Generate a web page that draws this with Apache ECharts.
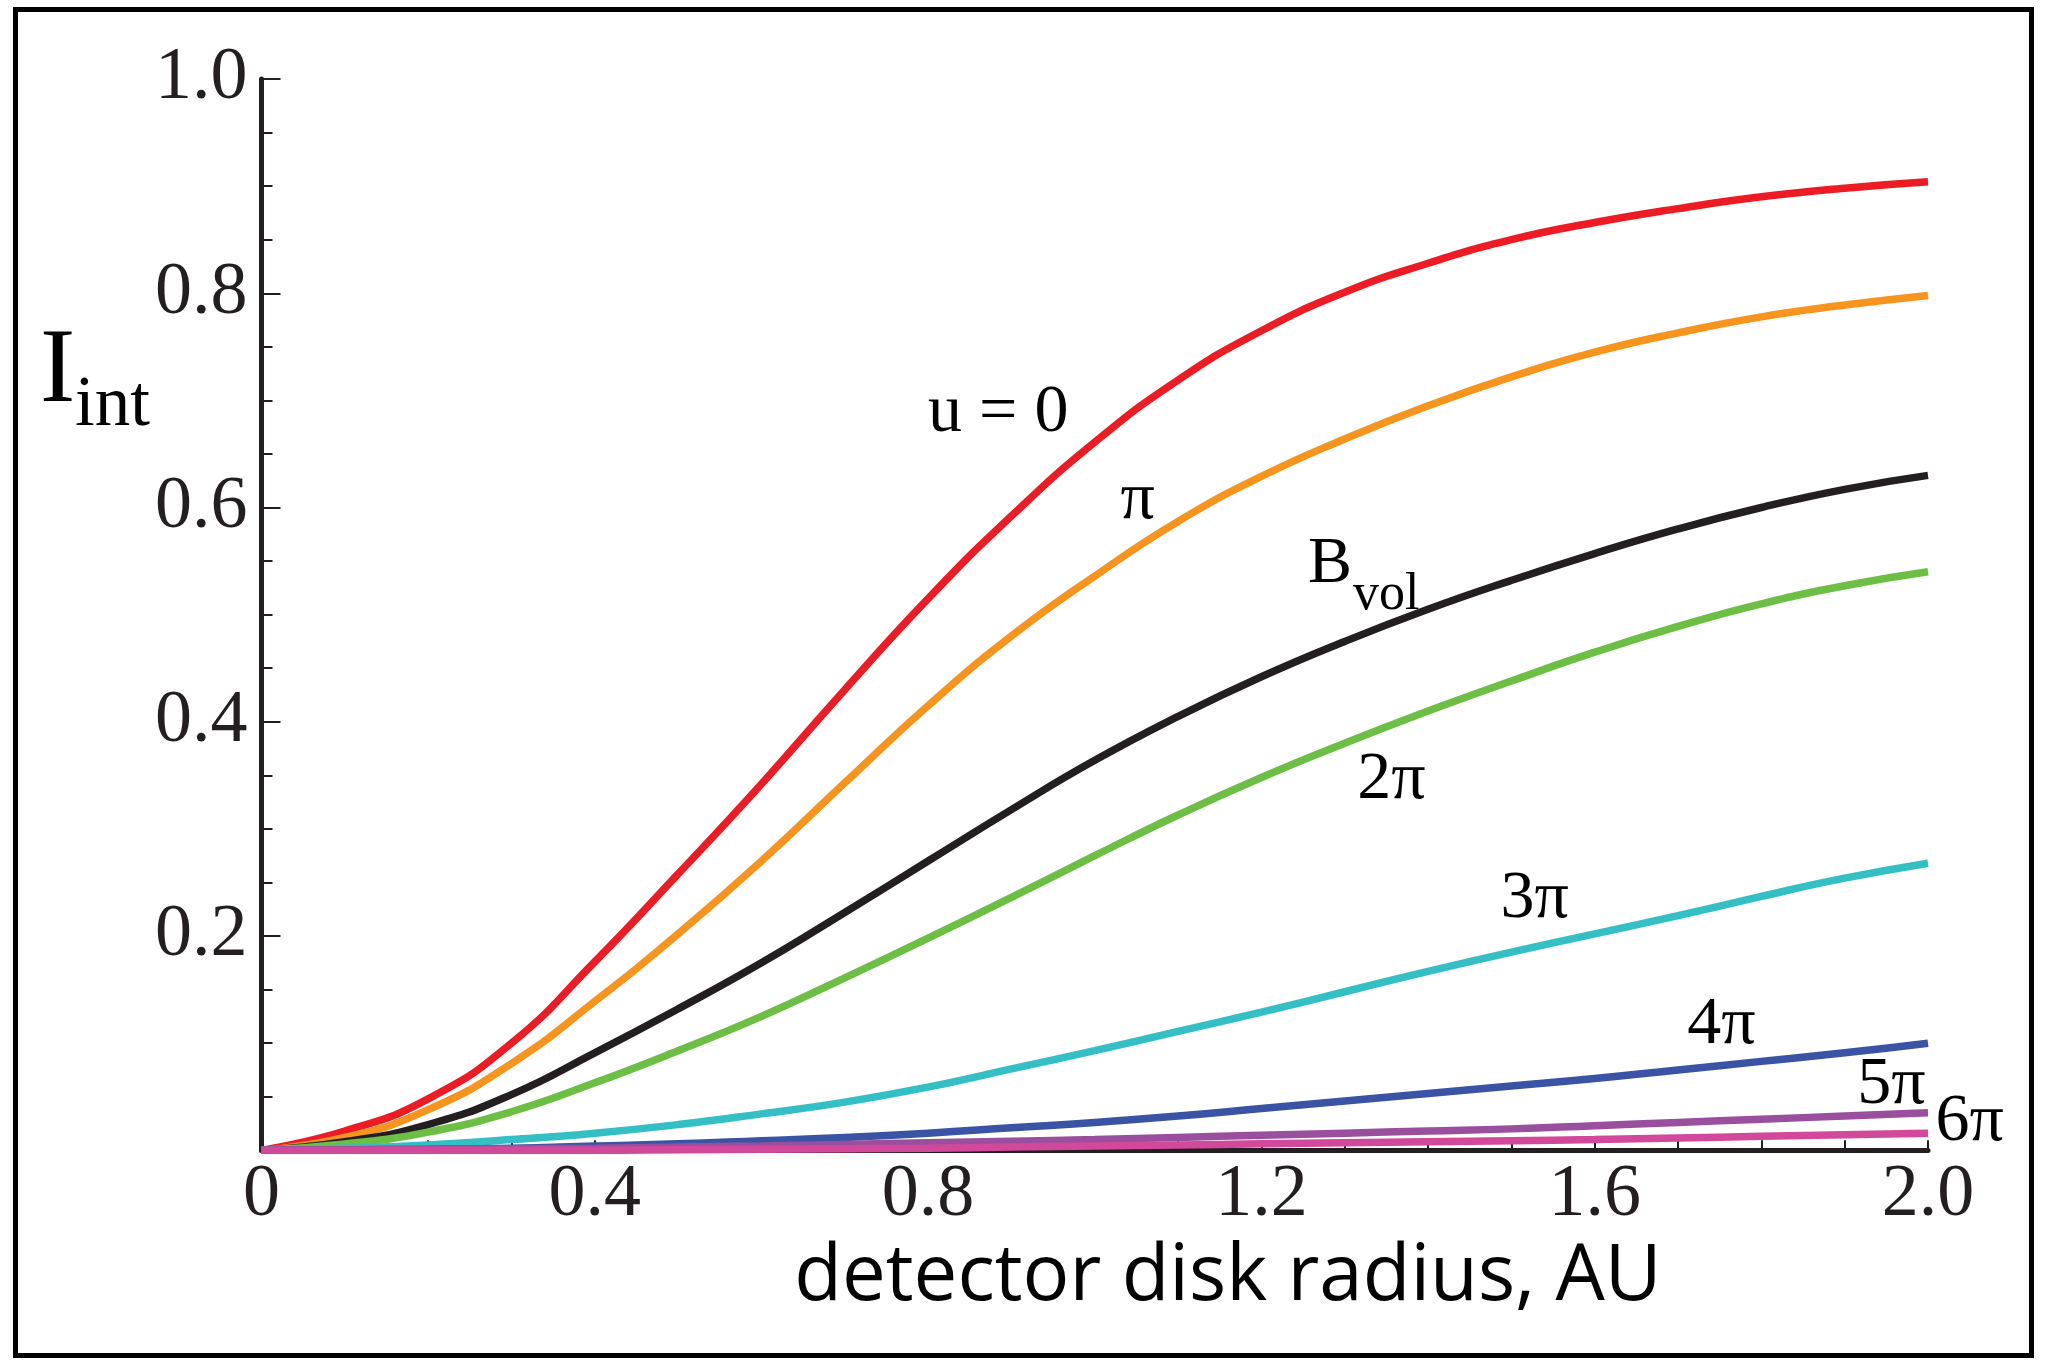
<!DOCTYPE html>
<html>
<head>
<meta charset="utf-8">
<script src="https://cdn.jsdelivr.net/npm/echarts@6.0.0/dist/echarts.min.js"></script>
<style>
html,body{margin:0;padding:0;background:#ffffff;}
#chart{width:2046px;height:1368px;}
</style>
</head>
<body>
<div id="chart"></div>
<script>
// ---------- data ----------
const radius = [0,0.1,0.2,0.3,0.4,0.5,0.6,0.7,0.8,0.9,1.0,1.1,1.2,1.3,1.4,1.5,1.6,1.7,1.8,1.9,2.0];
const u0   = [0,0.018,0.048,0.100,0.176,0.258,0.342,0.430,0.515,0.592,0.661,0.719,0.765,0.801,0.828,0.850,0.866,0.879,0.890,0.898,0.904];
const uPi  = [0,0.012,0.038,0.081,0.139,0.202,0.270,0.343,0.415,0.480,0.536,0.587,0.629,0.664,0.695,0.722,0.745,0.763,0.778,0.789,0.798];
const bVol = [0,0.008,0.024,0.052,0.091,0.132,0.175,0.222,0.270,0.318,0.364,0.405,0.442,0.475,0.505,0.532,0.557,0.580,0.600,0.617,0.630];
const u2Pi = [0,0.006,0.017,0.036,0.063,0.093,0.125,0.161,0.198,0.236,0.275,0.313,0.348,0.380,0.410,0.438,0.465,0.489,0.510,0.527,0.540];
const u3Pi = [0,0.002,0.005,0.010,0.016,0.024,0.034,0.045,0.059,0.076,0.093,0.111,0.129,0.148,0.167,0.185,0.202,0.219,0.237,0.254,0.268];
const u4Pi = [0,0.0005,0.001,0.002,0.004,0.006,0.009,0.012,0.016,0.021,0.026,0.032,0.039,0.046,0.053,0.060,0.067,0.075,0.083,0.091,0.100];
const u5Pi = [0,0.0003,0.001,0.0015,0.002,0.003,0.004,0.0055,0.007,0.0085,0.010,0.012,0.014,0.016,0.018,0.020,0.023,0.026,0.029,0.032,0.035];
const u6Pi = [0,0,0,0,0,0.0005,0.001,0.0015,0.002,0.003,0.004,0.005,0.006,0.007,0.008,0.009,0.010,0.0115,0.013,0.0145,0.016];

const seriesNames = ['u = 0','π','B_vol','2π','3π','4π','5π','6π'];
const seriesValues = [u0,uPi,bVol,u2Pi,u3Pi,u4Pi,u5Pi,u6Pi];
const seriesColors = ['#ED1C24','#F7941D','#231F20','#6DBE45','#34BFC4','#3A53A4','#9A4F9E','#D2489A'];

const xTickLabels = ['0','0.4','0.8','1.2','1.6','2.0'];
const yTickLabels = ['','0.2','0.4','0.6','0.8','1.0'];

// curve labels: text, anchor (r, I) of left/baseline, font size
const curveLabels = [
  {text:'u = 0', r:0.800, v:0.667, fs:68},
  {text:'π',     r:1.031, v:0.585, fs:68},
  {text:'B',     r:1.256, v:0.526, fs:66},
  {text:'vol',   r:1.310, v:0.502, fs:52},
  {text:'2π',    r:1.315, v:0.324, fs:68},
  {text:'3π',    r:1.487, v:0.213, fs:68},
  {text:'4π',    r:1.711, v:0.0955, fs:68},
  {text:'5π',    r:1.915, v:0.0395, fs:68},
  {text:'6π',    r:2.009, v:0.0049, fs:68}
];

const AXIS = '#231F20';
const SERIF = '"Liberation Serif","Times New Roman",serif';
const SANS = '"Open Sans","Noto Sans",sans-serif';

const chart = echarts.init(document.getElementById('chart'), null, {renderer:'canvas'});

const option = {
  animation:false,
  backgroundColor:'#ffffff',
  grid:{left:261.5, right:118, top:79, bottom:217.7, containLabel:false},
  xAxis:{
    type:'value', min:0, max:2, interval:0.4,
    axisLine:{show:true, onZero:false, lineStyle:{color:AXIS, width:5}},
    axisTick:{show:true, inside:true, length:10, lineStyle:{color:AXIS, width:2}},
    minorTick:{show:true, splitNumber:4, length:10, lineStyle:{color:AXIS, width:2}},
    splitLine:{show:false},
    axisLabel:{
      margin:8, color:AXIS, fontFamily:SERIF, fontSize:74, lineHeight:74,
      formatter:(v)=> xTickLabels[Math.round(v/0.4)] ?? ''
    }
  },
  yAxis:{
    type:'value', min:0, max:1, interval:0.2,
    axisLine:{show:true, onZero:false, lineStyle:{color:AXIS, width:5}},
    axisTick:{show:true, inside:true, length:19, lineStyle:{color:AXIS, width:2}},
    minorTick:{show:true, splitNumber:4, length:11, lineStyle:{color:AXIS, width:2}},
    splitLine:{show:false},
    axisLabel:{
      margin:14, color:AXIS, fontFamily:SERIF, fontSize:74, lineHeight:74,
      formatter:(v)=> yTickLabels[Math.round(v/0.2)] ?? ''
    }
  },
  series: seriesValues.map((vals,i)=>({
    name:seriesNames[i],
    type:'line',
    data:radius.map((r,j)=>[r, vals[j]]),
    showSymbol:false,
    symbol:'none',
    smooth:0.5,
    clip:false,
    lineStyle:{color:seriesColors[i], width:7.5, cap:'butt'},
    z:2+i
  }))
};
chart.setOption(option);

// middle-of-text offset above the baseline for the fonts used
const MID_SERIF = 0.3375;
const MID_SANS = 0.388;

const graphics = [];
// frame
graphics.push({type:'rect', shape:{x:15.5, y:9.5, width:2016, height:1346},
  style:{fill:'none', stroke:'#000000', lineWidth:5}, silent:true, z:0});

// curve labels placed through the axes' own scales
curveLabels.forEach(l=>{
  const p = chart.convertToPixel({gridIndex:0}, [l.r, l.v]);
  graphics.push({type:'text', x:p[0], y:p[1] - MID_SERIF*l.fs, z:50,
    style:{text:l.text, fill:'#000000', font:`${l.fs}px ${SERIF}`, align:'left', verticalAlign:'middle'}});
});

// y axis title I_int
graphics.push({type:'text', x:40, y:409 - MID_SERIF*106, z:50,
  style:{text:'I', fill:'#000000', font:`106px ${SERIF}`, align:'left', verticalAlign:'middle'}});
graphics.push({type:'text', x:75, y:430 - MID_SERIF*71, z:50,
  style:{text:'int', fill:'#000000', font:`71px ${SERIF}`, align:'left', verticalAlign:'middle'}});

// x axis title
graphics.push({type:'text', x:1228, y:1308 - MID_SANS*78, z:50,
  style:{text:'detector disk radius, AU', fill:'#000000', font:`78px ${SANS}`, align:'center', verticalAlign:'middle'}});

chart.setOption({graphic:graphics});
</script>
</body>
</html>
